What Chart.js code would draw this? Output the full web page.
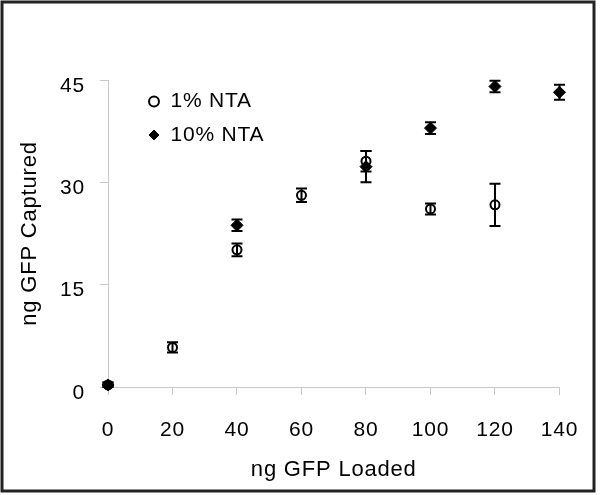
<!DOCTYPE html>
<html>
<head>
<meta charset="utf-8">
<script src="https://cdn.jsdelivr.net/npm/chart.js@4/dist/chart.umd.min.js"></script>
<style>
  html, body { margin: 0; padding: 0; background: #fff; }
  canvas { display: block; }
</style>
</head>
<body>
<canvas id="c" width="600" height="495"></canvas>
<script>
// ---- data ----
const loaded1 = [0, 20, 40, 60, 80, 100, 120];
const captured1 = [0.3, 5.8, 20.1, 28.1, 33.1, 26.1, 26.7];
const err1 = [0.3, 0.75, 0.95, 1.0, 1.5, 0.8, 3.1];

const loaded10 = [0, 40, 80, 100, 120, 140];
const captured10 = [0.3, 23.7, 32.3, 37.95, 44.05, 43.2];
const err10 = [0.4, 0.85, 2.3, 0.85, 0.85, 1.1];

const seriesLabels = ['1% NTA', '10% NTA'];
const xTitle = 'ng GFP Loaded';
const yTitle = 'ng GFP Captured';

const toPoints = (xs, ys) => xs.map((x, i) => ({ x: x, y: ys[i] }));

const errorBars = {
  id: 'errorBars',
  afterDatasetsDraw(chart) {
    const ctx = chart.ctx;
    const xs = chart.scales.x, ys = chart.scales.y;
    ctx.save();
    ctx.strokeStyle = '#000';
    ctx.lineWidth = 2;
    chart.data.datasets.forEach(ds => {
      (ds.errors || []).forEach((e, i) => {
        const p = ds.data[i];
        const px = xs.getPixelForValue(p.x);
        const top = ys.getPixelForValue(p.y + e);
        const bot = ys.getPixelForValue(Math.max(p.y - e, ys.min));
        const cap = 5.5;
        ctx.beginPath();
        ctx.moveTo(px, top); ctx.lineTo(px, bot);
        ctx.moveTo(px - cap, top); ctx.lineTo(px + cap, top);
        ctx.moveTo(px - cap, bot); ctx.lineTo(px + cap, bot);
        ctx.stroke();
      });
    });
    ctx.restore();
  }
};

const frame = {
  id: 'frame',
  beforeDraw(chart) {
    chart.ctx.letterSpacing = '0.8px';
  },
  afterDraw(chart) {
    const ctx = chart.ctx;
    ctx.save();
    ctx.strokeStyle = '#222';
    ctx.lineWidth = 3;
    ctx.strokeRect(2, 2, 592, 489);
    ctx.restore();
  }
};

const legendPlace = {
  id: 'legendPlace',
  afterLayout(chart) {
    const lg = chart.legend;
    if (!lg) return;
    const w = lg.width, h = lg.height;
    lg.left = 135.5; lg.top = 78.5;
    lg.right = lg.left + w; lg.bottom = lg.top + h;
  }
};

Chart.defaults.font.family = '"Liberation Sans", Arial, sans-serif';
Chart.defaults.color = '#000';

new Chart(document.getElementById('c'), {
  type: 'scatter',
  data: {
    datasets: [
      {
        label: seriesLabels[0],
        data: toPoints(loaded1, captured1),
        errors: err1,
        order: 1,
        pointStyle: 'circle',
        pointRadius: 4.5,
        pointBorderWidth: 2,
        borderColor: '#000',
        backgroundColor: '#fff',
        clip: false
      },
      {
        label: seriesLabels[1],
        data: toPoints(loaded10, captured10),
        errors: err10,
        order: 0,
        pointStyle: 'rectRot',
        pointRadius: 6,
        pointBorderWidth: 1,
        borderColor: '#000',
        backgroundColor: '#000',
        clip: false
      }
    ]
  },
  options: {
    responsive: false,
    animation: false,
    devicePixelRatio: 1,
    layout: { padding: { top: 80, right: 30, left: 0, bottom: 0 } },
    plugins: {
      legend: {
        position: 'chartArea',
        align: 'start',
        labels: {
          usePointStyle: true,
          boxWidth: 12,
          boxHeight: 7,
          padding: 12.5,
          color: '#000',
          font: { size: 21 },
          sort: (a, b) => a.datasetIndex - b.datasetIndex
        }
      },
      tooltip: { enabled: false }
    },
    scales: {
      x: {
        type: 'linear',
        min: 0, max: 140,
        afterFit(s) { s.height = 108; },
        ticks: { stepSize: 20, font: { size: 21 }, padding: 23, color: '#000' },
        grid: { drawOnChartArea: false, drawTicks: true, tickLength: 8, color: '#c8c8c8' },
        border: { color: '#c8c8c8', width: 1 },
        title: { display: true, text: xTitle, font: { size: 22 }, padding: { top: 0, bottom: 12 }, color: '#000' }
      },
      y: {
        type: 'linear',
        min: 0, max: 45,
        afterFit(s) { s.width = 108; },
        ticks: { stepSize: 15, font: { size: 21 }, padding: 15, labelOffset: 6, color: '#000' },
        grid: { drawOnChartArea: false, drawTicks: true, tickLength: 8, color: '#c8c8c8' },
        border: { color: '#c8c8c8', width: 1 },
        title: { display: true, text: yTitle, font: { size: 22 }, padding: { top: 17, bottom: 0 }, color: '#000' }
      }
    }
  },
  plugins: [errorBars, frame, legendPlace]
});
</script>
</body>
</html>
